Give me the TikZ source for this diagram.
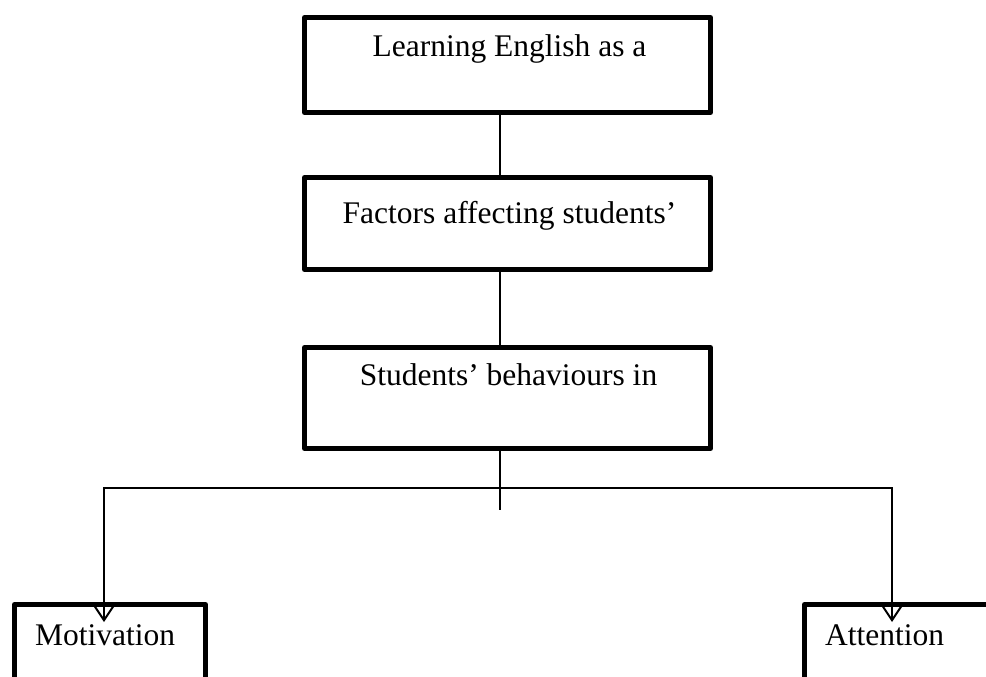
\documentclass[tikz,border=0pt]{standalone}
\usepackage{fontspec}
\setmainfont{Liberation Serif}
\usetikzlibrary{arrows.meta,calc}
\tikzset{
  box/.style={draw=black, line width=5pt, minimum width=#1, anchor=north west, inner sep=0pt, line join=round},
  box/.default=406pt,
  lbl/.style={font=\fontsize{31.5}{38}\selectfont, inner sep=0pt},
  conn/.style={draw=black, line width=2pt},
  arr/.style={conn, -{Straight Barb[length=15pt,width=20pt,line width=2pt]}}
}
\begin{document}
\begin{tikzpicture}[x=1pt,y=-1pt]
\useasboundingbox (0,0) rectangle (986,677);
\clip (0,0) rectangle (986,677);
\fill[white] (0,0) rectangle (986,677);
% boxes
\node[box, minimum height=95pt] (b1) at (302,15) {};
\node[box, minimum height=92pt] (b2) at (302,175) {};
\node[box, minimum height=101pt] (b3) at (302,345) {};
\node[box=191pt, minimum height=120pt] (mot) at (12,602) {};
\node[box=191pt, minimum height=120pt] (att) at (802,602) {};
% texts
\node[lbl, anchor=base] (t1) at ($(b1.north)+(2,42)$) {Learning English as a};
\node[lbl, anchor=base] (t2) at ($(b2.north)+(2,48)$) {Factors affecting students’};
\node[lbl, anchor=base] (t3) at ($(b3.north)+(1,40)$) {Students’ behaviours in};
\node[lbl, anchor=base west] (t4) at ($(mot.north west)+(23,43)$) {Motivation};
\node[lbl, anchor=base west] (t5) at ($(att.north west)+(23,43)$) {Attention};
% connectors
\coordinate (hub) at (500,488);
\coordinate (stub) at (500,510);
\coordinate (mtip) at ($(mot.north west)+(92,20)$);
\coordinate (atip) at ($(att.north west)+(90,20)$);
\draw[conn] (b1.south -| hub) -- (b2.north -| hub);
\draw[conn] (b2.south -| hub) -- (b3.north -| hub);
\draw[conn] (b3.south -| hub) -- (stub);
\draw[arr] (hub) -| (mtip);
\draw[arr] (hub) -| (atip);
\end{tikzpicture}
\end{document}
